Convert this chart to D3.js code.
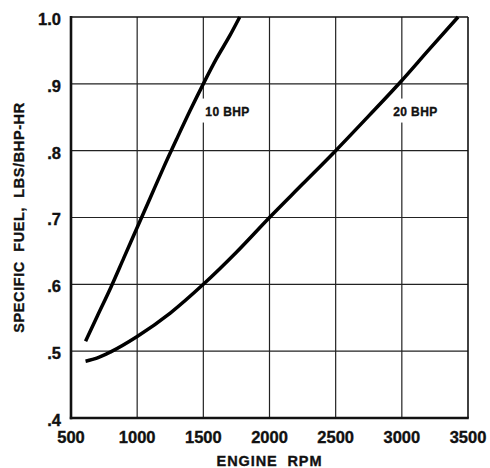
<!DOCTYPE html>
<html lang="en">
<head>
    <meta charset="UTF-8">
    <title>Specific fuel vs engine rpm</title>
    <script src="https://d3js.org/d3.v7.min.js"></script>
    <style>
        body { margin: 0; background: #fff; }
        text { font-family: "Liberation Sans", Arial, sans-serif; font-weight: bold; fill: #111; stroke: #111; stroke-width: 0.35px; }
    </style>
</head>
<body>
<svg id="chart"></svg>
<script>
    // values
    const rpm10  = [610, 700, 800, 900, 1000, 1100, 1200, 1300, 1400, 1500, 1600, 1700, 1775];
    const fuel10 = [.515, .553, .595, .64, .685, .73, .775, .818, .86, .9, .938, .972, 1.0];
    const rpm20  = [610, 700, 800, 1000, 1250, 1500, 1750, 2000, 2250, 2500, 2750, 3000, 3200, 3425];
    const fuel20 = [.485, .49, .499, .522, .557, .6, .648, .7, .75, .8, .852, .905, .95, 1.0];
    const xTicks = [500, 1000, 1500, 2000, 2500, 3000, 3500];
    const yTicks = [.4, .5, .6, .7, .8, .9, 1.0];
    const yTickText = ['.4', '.5', '.6', '.7', '.8', '.9', '1.0'];
    const curveLabels = ['10 BHP', '20 BHP'];
    const labelRpm = [1515, 2935];
    const labelFuel = [.859, .859];

    const width = 490, height = 468;
    const m = {l: 71, r: 22, t: 17, b: 50};
    const svg = d3.select('#chart').attr('width', width).attr('height', height);

    const x = d3.scaleLinear().domain([500, 3500]).range([m.l, width - m.r]);
    const y = d3.scaleLinear().domain([.4, 1.0]).range([height - m.b, m.t]);

    // grid
    svg.append('g').selectAll('line.vg').data(xTicks.slice(1, -1))
        .join('line')
        .attr('x1', d => x(d)).attr('x2', d => x(d))
        .attr('y1', y(1.0)).attr('y2', y(.4))
        .attr('stroke', '#222').attr('stroke-width', 1.2);
    svg.append('g').selectAll('line.hg').data(yTicks.slice(1, -1))
        .join('line')
        .attr('x1', x(500)).attr('x2', x(3500))
        .attr('y1', d => y(d)).attr('y2', d => y(d))
        .attr('stroke', '#222').attr('stroke-width', 1.2);

    // frame: top/right thinner, left/bottom heavier
    svg.append('line').attr('x1', x(500)).attr('x2', x(3500)).attr('y1', y(1.0)).attr('y2', y(1.0))
        .attr('stroke', '#111').attr('stroke-width', 1.6);
    svg.append('line').attr('x1', x(3500)).attr('x2', x(3500)).attr('y1', y(1.0)).attr('y2', y(.4))
        .attr('stroke', '#111').attr('stroke-width', 1.6);
    svg.append('line').attr('x1', x(500)).attr('x2', x(500)).attr('y1', y(1.0) - 1).attr('y2', y(.4) + 1.2)
        .attr('stroke', '#111').attr('stroke-width', 2.6);
    svg.append('line').attr('x1', x(500) - 1.2).attr('x2', x(3500) + 0.8).attr('y1', y(.4)).attr('y2', y(.4))
        .attr('stroke', '#111').attr('stroke-width', 2.6);

    // curve labels with white box that breaks the grid
    curveLabels.forEach((t, i) => {
        const g = svg.append('g');
        const txt = g.append('text')
            .attr('x', x(labelRpm[i])).attr('y', y(labelFuel[i]))
            .attr('dy', '0.36em')
            .attr('font-size', 12)
            .attr('letter-spacing', 0.4)
            .attr('xml:space', 'preserve')
            .text(t);
        const bb = txt.node().getBBox();
        g.insert('rect', 'text')
            .attr('x', bb.x - 5).attr('y', bb.y - 6)
            .attr('width', bb.width + 7).attr('height', bb.height + 10)
            .attr('fill', '#fff').attr('stroke', 'none');
    });

    // curves
    const line = d3.line().x(d => x(d[0])).y(d => y(d[1])).curve(d3.curveMonotoneX);
    [[rpm10, fuel10], [rpm20, fuel20]].forEach(([r, f]) => {
        svg.append('path')
            .datum(r.map((v, i) => [v, f[i]]))
            .attr('d', line)
            .attr('fill', 'none')
            .attr('stroke', '#000')
            .attr('stroke-width', 3.5)
            .attr('stroke-linecap', 'butt');
    });

    // tick labels
    svg.append('g').selectAll('text').data(xTicks)
        .join('text')
        .attr('x', d => x(d)).attr('y', 443)
        .attr('text-anchor', 'middle')
        .attr('font-size', 16.5)
        .text(d => d);
    svg.append('g').selectAll('text').data(yTicks)
        .join('text')
        .attr('x', 61).attr('y', d => y(d) + 2)
        .attr('dy', '0.36em')
        .attr('text-anchor', 'end')
        .attr('font-size', 16.5)
        .text((d, i) => yTickText[i]);

    // axis titles
    svg.append('text')
        .attr('x', (x(500) + x(3500)) / 2).attr('y', 466)
        .attr('text-anchor', 'middle')
        .attr('font-size', 14.5)
        .attr('letter-spacing', 0.9)
        .attr('xml:space', 'preserve')
        .text('ENGINE  RPM');
    svg.append('text')
        .attr('transform', `translate(24,${(y(.4) + y(1.0)) / 2}) rotate(-90)`)
        .attr('text-anchor', 'middle')
        .attr('font-size', 14.5)
        .attr('letter-spacing', 0.6)
        .attr('xml:space', 'preserve')
        .text('SPECIFIC  FUEL,  LBS/BHP-HR');
</script>
</body>
</html>
